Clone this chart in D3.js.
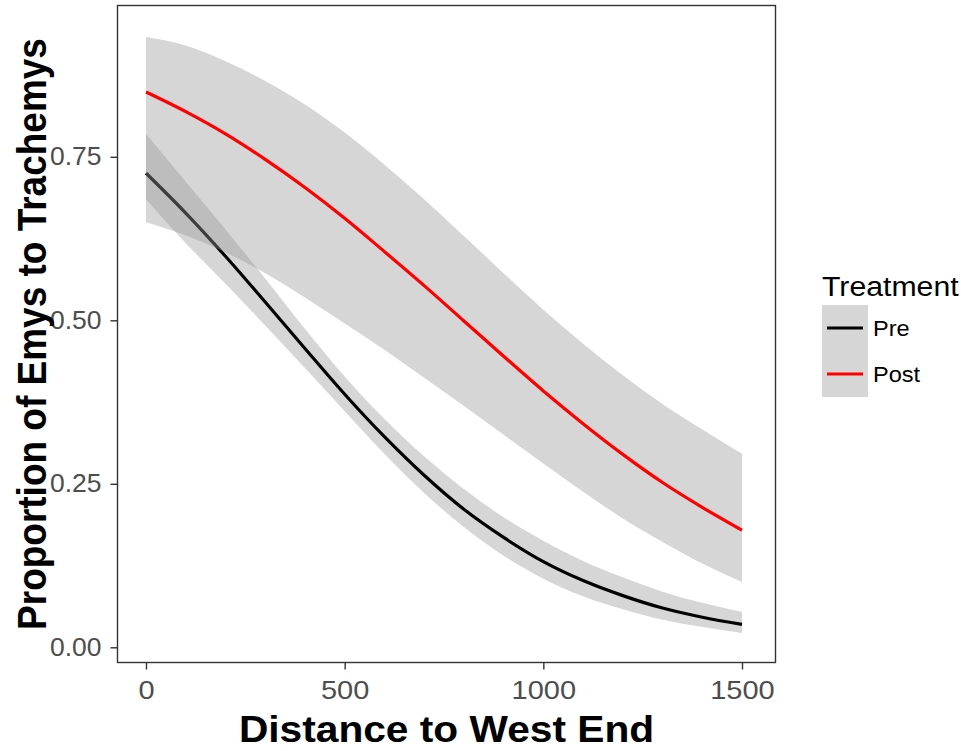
<!DOCTYPE html>
<html>
<head>
<meta charset="utf-8">
<script src="https://cdn.jsdelivr.net/npm/d3@7"></script>
<style>
  html, body { margin: 0; padding: 0; background: #ffffff; }
  svg { display: block; font-family: "Liberation Sans", Arial, sans-serif; }
</style>
</head>
<body>
<svg id="chart" width="961" height="751"></svg>
<script>
// ---- data ----
const distance = [0, 100, 200, 300, 400, 500, 600, 700, 800, 900, 1000, 1100, 1200, 1300, 1400, 1500];

const preFit   = [0.725, 0.664, 0.598, 0.528, 0.457, 0.387, 0.322, 0.263, 0.211, 0.168, 0.131, 0.102, 0.079, 0.060, 0.046, 0.035];
const preLower = [0.685, 0.618, 0.556, 0.492, 0.427, 0.361, 0.296, 0.236, 0.184, 0.140, 0.105, 0.078, 0.058, 0.042, 0.031, 0.022];
const preUpper = [0.785, 0.712, 0.639, 0.564, 0.487, 0.414, 0.349, 0.292, 0.242, 0.199, 0.163, 0.132, 0.107, 0.085, 0.068, 0.054];

const postFit   = [0.849, 0.819, 0.785, 0.746, 0.703, 0.656, 0.605, 0.553, 0.499, 0.445, 0.392, 0.342, 0.295, 0.252, 0.214, 0.179];
const postLower = [0.650, 0.630, 0.604, 0.572, 0.535, 0.495, 0.455, 0.412, 0.369, 0.325, 0.281, 0.238, 0.197, 0.161, 0.128, 0.100];
const postUpper = [0.933, 0.920, 0.896, 0.866, 0.830, 0.787, 0.738, 0.685, 0.629, 0.572, 0.516, 0.464, 0.416, 0.372, 0.333, 0.296];

const seriesNames  = ["Pre", "Post"];
const seriesColors = ["#000000", "#ff0000"];

const xTicks = [0, 500, 1000, 1500];
const xTickLabels = ["0", "500", "1000", "1500"];
const yTicks = [0, 0.25, 0.5, 0.75];
const yTickLabels = ["0.00", "0.25", "0.50", "0.75"];

const xTitle = "Distance to West End";
const yTitle = "Proportion of Emys to Trachemys";
const legendTitle = "Treatment";

// ---- layout ----
const panel = { left: 117.5, right: 775.5, top: 5.5, bottom: 662.5 };
const svg = d3.select("#chart");
const SX = 1.1;        // horizontal stretch of the reference's lettering
const XTICK_SX = 1.16;
const YTICK_SX = 1.06;

const x = d3.scaleLinear().domain([0, 1500]).range([146, 742]);
const y = d3.scaleLinear().domain([0, 0.75]).range([647.3, 156.8]);

const rows = (fit, lo, hi) => distance.map((d, i) => ({ d, fit: fit[i], lo: lo[i], hi: hi[i] }));
const groups = [
  { name: seriesNames[0], color: seriesColors[0], data: rows(preFit, preLower, preUpper) },
  { name: seriesNames[1], color: seriesColors[1], data: rows(postFit, postLower, postUpper) }
];

const area = d3.area().curve(d3.curveMonotoneX)
  .x(r => x(r.d)).y0(r => y(r.lo)).y1(r => y(r.hi));
const line = d3.line().curve(d3.curveMonotoneX)
  .x(r => x(r.d)).y(r => y(r.fit));

const plot = svg.append("g");
groups.forEach(g => {
  plot.append("path").attr("d", area(g.data))
    .attr("fill", "#999999").attr("fill-opacity", 0.4).attr("stroke", "none");
  plot.append("path").attr("d", line(g.data))
    .attr("fill", "none").attr("stroke", g.color).attr("stroke-width", 3.2);
});

// panel border
svg.append("rect")
  .attr("x", panel.left).attr("y", panel.top)
  .attr("width", panel.right - panel.left).attr("height", panel.bottom - panel.top)
  .attr("fill", "none").attr("stroke", "#333333").attr("stroke-width", 1.4);

// x axis
const xAxis = d3.axisBottom(x).tickValues(xTicks).tickSize(7).tickPadding(12)
  .tickFormat((d, i) => xTickLabels[i]);
const gx = svg.append("g").attr("transform", `translate(0,${panel.bottom})`).call(xAxis);
gx.select(".domain").remove();
gx.selectAll(".tick line").attr("stroke", "#333333").attr("stroke-width", 1.4);
gx.selectAll(".tick text").attr("fill", "#4d4d4d")
  .attr("transform", `scale(${XTICK_SX},1)`)
  .style("font-size", "25px").style("font-family", "'Liberation Sans', Arial, sans-serif");

// y axis
const yAxis = d3.axisLeft(y).tickValues(yTicks).tickSize(7).tickPadding(9)
  .tickFormat((d, i) => yTickLabels[i]);
const gy = svg.append("g").attr("transform", `translate(${panel.left},0)`).call(yAxis);
gy.select(".domain").remove();
gy.selectAll(".tick line").attr("stroke", "#333333").attr("stroke-width", 1.4);
gy.selectAll(".tick text").attr("fill", "#4d4d4d")
  .attr("x", -16 / YTICK_SX)
  .attr("transform", `scale(${YTICK_SX},1)`)
  .style("font-size", "25px").style("font-family", "'Liberation Sans', Arial, sans-serif");

// axis titles
svg.append("text").text(xTitle)
  .attr("transform", `translate(${(panel.left + panel.right) / 2},742) scale(${SX},1)`)
  .attr("text-anchor", "middle").attr("font-weight", "bold")
  .attr("font-size", 37).attr("fill", "#000");

svg.append("text").text(yTitle)
  .attr("transform", `translate(46,${(panel.top + panel.bottom) / 2}) rotate(-90) scale(1,${SX})`)
  .attr("text-anchor", "middle").attr("font-weight", "bold")
  .attr("font-size", 37).attr("fill", "#000");

// legend
const leg = svg.append("g");
leg.append("text").text(legendTitle)
  .attr("transform", `translate(822,296) scale(1.12,1)`)
  .attr("font-size", 27).attr("fill", "#000");
const keyH = 46;
groups.forEach((g, i) => {
  const top = 305 + i * keyH;
  leg.append("rect").attr("x", 822).attr("y", top).attr("width", 46).attr("height", keyH)
    .attr("fill", "#d6d6d6");
  leg.append("line").attr("x1", 827).attr("x2", 863)
    .attr("y1", top + keyH / 2).attr("y2", top + keyH / 2)
    .attr("stroke", g.color).attr("stroke-width", 3.2);
  leg.append("text").text(g.name)
    .attr("transform", `translate(873,${top + keyH / 2}) scale(1.07,1)`)
    .attr("dy", "0.35em").attr("font-size", 22).attr("fill", "#000");
});
</script>
</body>
</html>
